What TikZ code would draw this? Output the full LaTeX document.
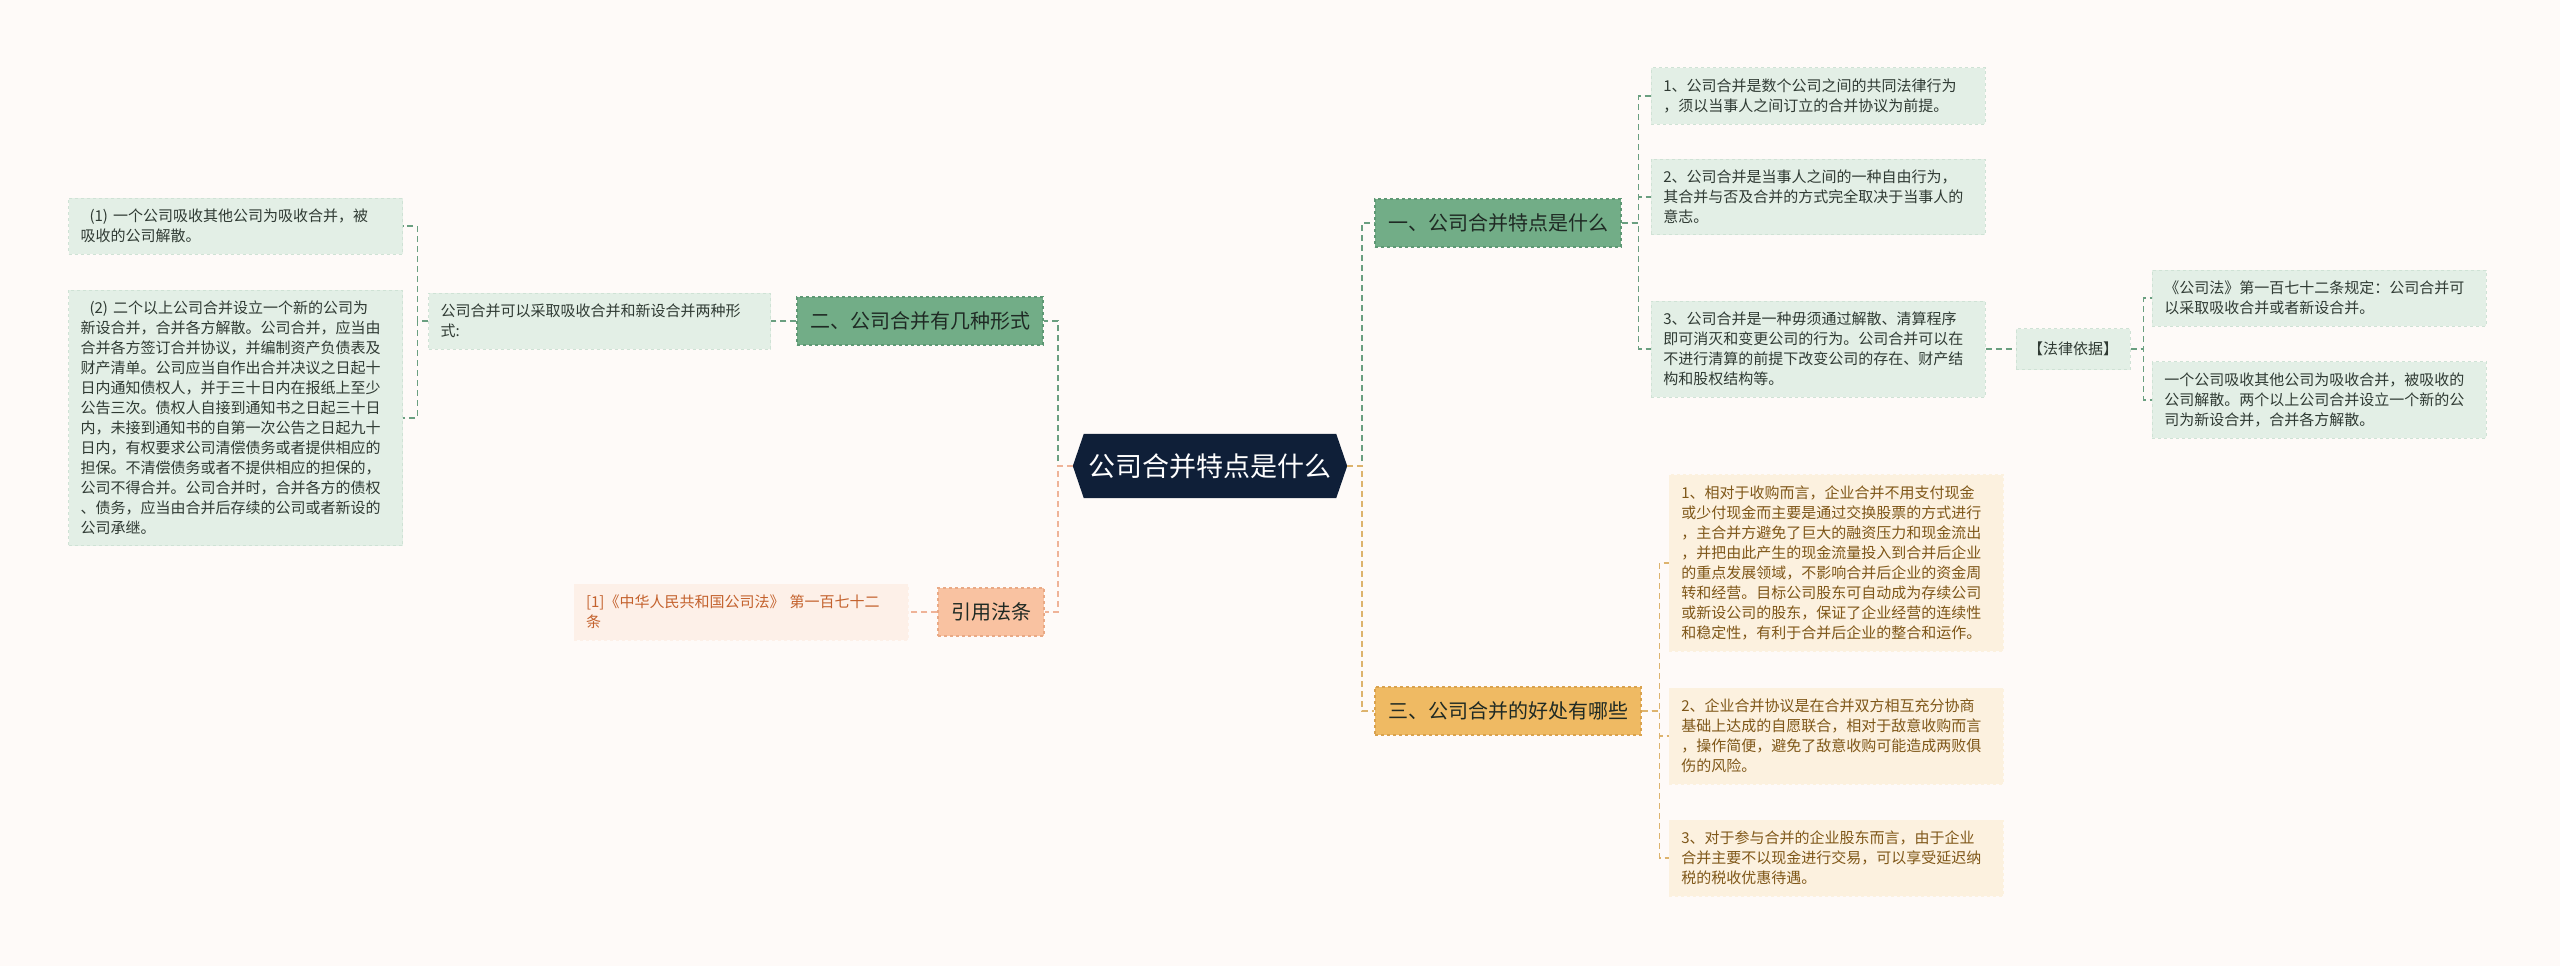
\documentclass[tikz,border=0pt]{standalone}
\usepackage{fontspec}
\setmainfont{Noto Sans CJK SC}
\usetikzlibrary{positioning,backgrounds}

\definecolor{pagebg}{HTML}{FEFAF8}
\definecolor{rootfill}{HTML}{0F1F38}
\definecolor{gfill}{HTML}{72AD87}
\definecolor{gedge}{HTML}{5E9874}
\definecolor{gline}{HTML}{6A9F80}
\definecolor{gleaffill}{HTML}{E3EFE6}
\definecolor{gleafedge}{HTML}{CFE2D5}
\definecolor{ofill}{HTML}{F9C2A1}
\definecolor{oedge}{HTML}{E9A985}
\definecolor{oline}{HTML}{EFB398}
\definecolor{oleaffill}{HTML}{FDF0E8}
\definecolor{citetext}{HTML}{C4622D}
\definecolor{yfill}{HTML}{EFBA63}
\definecolor{yedge}{HTML}{D9A24E}
\definecolor{yline}{HTML}{DDB36D}
\definecolor{yleaffill}{HTML}{FCF1DF}
\definecolor{yleaftext}{HTML}{7F5718}
\definecolor{branchtext}{HTML}{1F2A24}
\definecolor{leaftext}{HTML}{2F3A33}

\begin{document}
\begin{tikzpicture}[
  x=1pt,y=-1pt,
  root/.style={minimum width=252pt,minimum height=64pt,inner xsep=2pt,text=white,font=\fontsize{27}{30}\selectfont},
  branch/.style={draw,dashed,line width=1.1pt,minimum height=48pt,inner xsep=13pt,inner ysep=4pt,text=branchtext,font=\fontsize{20}{24}\selectfont},
  leaf/.style={draw,dashed,line width=0.8pt,align=left,text width=310pt,inner xsep=12pt,inner ysep=11pt,font=\fontsize{15}{20}\selectfont},
  gleaf/.style={leaf,fill=gleaffill,draw=gleafedge,text=leaftext},
  yleaf/.style={leaf,fill=yleaffill,draw=yleaffill,text=yleaftext},
  tagbox/.style={draw=gleafedge,dashed,line width=0.8pt,fill=gleaffill,text=leaftext,minimum height=41pt,inner xsep=12pt,font=\fontsize{15}{20}\selectfont},
  trunk/.style={dash pattern=on 6pt off 4pt,line width=2pt},
  link/.style={dash pattern=on 6pt off 4pt,line width=1.2pt}
]
\useasboundingbox (0,0) rectangle (2560,966);

% centre and branches
\node[root] (c) at (1210,466) {公司合并特点是什么};
\coordinate (cw) at ([xshift=-11pt]c.west);
\coordinate (ce) at ([xshift=11pt]c.east);
\node[branch,fill=gfill,draw=gedge] (b1) at (1498,223) {一、公司合并特点是什么};
\node[branch,fill=gfill,draw=gedge] (b2) at (920,321) {二、公司合并有几种形式};
\node[branch,fill=yfill,draw=yedge] (b3) at (1508,711) {三、公司合并的好处有哪些};
\node[branch,fill=ofill,draw=oedge] (b4) at (991,612) {引用法条};

\begin{scope}[on background layer]
\fill[pagebg] (0,0) rectangle (2560,966);
\fill[rootfill] (cw) -- (c.north west) -- (c.north east) -- (ce) -- (c.south east) -- (c.south west) -- cycle;
\end{scope}

\draw[trunk,gline] (cw) -- ++(-15,0) |- (b2.east);
\draw[trunk,oline] (cw) -- ++(-15,0) |- (b4.east);
\draw[trunk,gline] (ce) -- ++(15,0) |- (b1.west);
\draw[trunk,yline] (ce) -- ++(15,0) |- (b3.west);

% branch one
\node[gleaf,anchor=west] (r1) at (1651,96) {1、公司合并是数个公司之间的共同法律行为\\，须以当事人之间订立的合并协议为前提。};
\node[gleaf,anchor=west] (r2) at (1651,197) {2、公司合并是当事人之间的一种自由行为，\\其合并与否及合并的方式完全取决于当事人的\\意志。};
\node[gleaf,anchor=west] (r3) at (1651,349) {3、公司合并是一种毋须通过解散、清算程序\\即可消灭和变更公司的行为。公司合并可以在\\不进行清算的前提下改变公司的存在、财产结\\构和股权结构等。};
\node[tagbox,right=30pt of r3] (law) {【法律依据】};
\node[gleaf,anchor=west] (g1) at (2152,298) {《公司法》第一百七十二条规定：公司合并可\\以采取吸收合并或者新设合并。};
\node[gleaf,anchor=west] (g2) at (2152,400) {一个公司吸收其他公司为吸收合并，被吸收的\\公司解散。两个以上公司合并设立一个新的公\\司为新设合并，合并各方解散。};
\foreach \n in {r1,r2,r3}
  \draw[link,gline] (b1.east) -- ++(17,0) |- (\n.west);
\draw[link,gline] (r3.east) -- (law.west);
\foreach \n in {g1,g2}
  \draw[link,gline] (law.east) -- ++(13,0) |- (\n.west);

% branch two
\node[gleaf,text width=318pt,anchor=east] (l0) at (771,321) {公司合并可以采取吸收合并和新设合并两种形\\式:};
\node[gleaf,anchor=east] (a1) at (403,226) {\hspace*{0.6em}(1) 一个公司吸收其他公司为吸收合并，被\\吸收的公司解散。};
\node[gleaf,anchor=east] (a2) at (403,418) {\hspace*{0.6em}(2) 二个以上公司合并设立一个新的公司为\\新设合并，合并各方解散。公司合并，应当由\\合并各方签订合并协议，并编制资产负债表及\\财产清单。公司应当自作出合并决议之日起十\\日内通知债权人，并于三十日内在报纸上至少\\公告三次。债权人自接到通知书之日起三十日\\内，未接到通知书的自第一次公告之日起九十\\日内，有权要求公司清偿债务或者提供相应的\\担保。不清偿债务或者不提供相应的担保的，\\公司不得合并。公司合并时，合并各方的债权\\、债务，应当由合并后存续的公司或者新设的\\公司承继。};
\draw[link,gline] (b2.west) -- (l0.east);
\foreach \n in {a1,a2}
  \draw[link,gline] (l0.west) -- ++(-11,0) |- (\n.east);

% citation
\node[leaf,fill=oleaffill,draw=oleaffill,text=citetext,left=29pt of b4] (cite) {[1]《中华人民共和国公司法》 第一百七十二\\条};
\draw[link,oline] (b4.west) -- (cite.east);

% branch three
\node[yleaf,anchor=west] (y1) at (1669,563) {1、相对于收购而言，企业合并不用支付现金\\或少付现金而主要是通过交换股票的方式进行\\，主合并方避免了巨大的融资压力和现金流出\\，并把由此产生的现金流量投入到合并后企业\\的重点发展领域，不影响合并后企业的资金周\\转和经营。目标公司股东可自动成为存续公司\\或新设公司的股东，保证了企业经营的连续性\\和稳定性，有利于合并后企业的整合和运作。};
\node[yleaf,anchor=west] (y2) at (1669,736) {2、企业合并协议是在合并双方相互充分协商\\基础上达成的自愿联合，相对于敌意收购而言\\，操作简便，避免了敌意收购可能造成两败俱\\伤的风险。};
\node[yleaf,anchor=west] (y3) at (1669,858) {3、对于参与合并的企业股东而言，由于企业\\合并主要不以现金进行交易，可以享受延迟纳\\税的税收优惠待遇。};
\foreach \n in {y1,y2,y3}
  \draw[link,yline] (b3.east) -- ++(18,0) |- (\n.west);
\end{tikzpicture}
\end{document}
